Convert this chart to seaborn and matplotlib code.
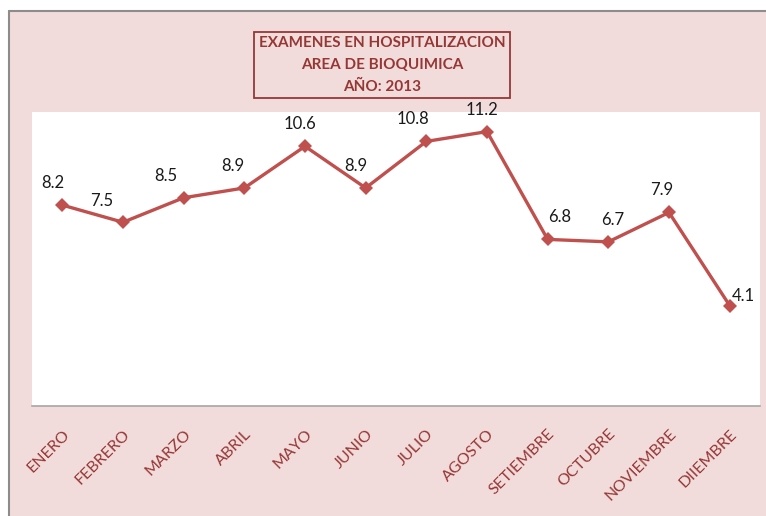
import matplotlib
matplotlib.use("Agg")
import matplotlib.pyplot as plt
import seaborn as sns
import pandas as pd
from matplotlib.lines import Line2D

months = ["ENERO", "FEBRERO", "MARZO", "ABRIL", "MAYO", "JUNIO", "JULIO",
          "AGOSTO", "SETIEMBRE", "OCTUBRE", "NOVIEMBRE", "DIIEMBRE"]
values = [8.2, 7.5, 8.5, 8.9, 10.6, 8.9, 10.8, 11.2, 6.8, 6.7, 7.9, 4.1]
title_lines = ["EXAMENES EN HOSPITALIZACION", "AREA DE BIOQUIMICA", "AÑO: 2013"]

# label offsets (pixels) mimicking Excel's placement
label_dx = [-10, -21, -18, -12, -5, -10, -13, -5, 12, 4, -7, 14]
label_dy = [22, 21, 22, 22, 22, 22, 22, 22, 22, 22, 22, 10]

sns.set_theme(style="white")
plt.rcParams['font.family'] = ['Lato', 'DejaVu Sans']

W, H = 766, 516
fig = plt.figure(figsize=(W / 100, H / 100), dpi=100)
bg = "#F2DCDB"
fig.patch.set_facecolor(bg)

ax = fig.add_axes([32 / W, (H - 406) / H, 728 / W, 294 / H])
ax.set_facecolor("white")

df = pd.DataFrame({"mes": months, "valor": values})
line_col = "#C0504D"
sns.lineplot(data=df, x="mes", y="valor", sort=False, ax=ax, color=line_col,
             linewidth=2.4, marker="D", markersize=7, markeredgewidth=0)

ax.set_xlim(-0.5, len(months) - 0.5)
ax.set_ylim(0, 12)
ax.set_yticks([])
ax.set_xlabel("")
ax.set_ylabel("")
for s in ["top", "left", "right"]:
    ax.spines[s].set_visible(False)
ax.spines["bottom"].set_color("#A6A6A6")
ax.spines["bottom"].set_linewidth(1.2)
ax.tick_params(axis="x", length=0, pad=15)
ax.set_xticks(range(len(months)))
ax.set_xticklabels(months, rotation=45, ha="right", va="top",
                   rotation_mode="anchor", color="#953735", fontsize=11.5)

for i, v in enumerate(values):
    ax.annotate(f"{v}", (i, v), xytext=(label_dx[i] * 0.72, label_dy[i] * 0.72),
                textcoords="offset points", ha="center", va="center",
                fontsize=12, color="#1a1a1a")

# title box
fig.text(382 / W, 1 - 65 / H, "\n".join(title_lines), ha="center", va="center",
         fontsize=11, fontweight="bold", color="#953735", linespacing=1.7,
         bbox=dict(boxstyle="square,pad=0.3", facecolor=bg,
                   edgecolor="#953735", linewidth=1.3))

# outer chart border
gray = "#8C8C8C"
fig.add_artist(Line2D([9 / W, 9 / W], [0, 1 - 11 / H], transform=fig.transFigure,
                      color=gray, linewidth=1.5))
fig.add_artist(Line2D([9 / W, 1], [1 - 11 / H, 1 - 11 / H], transform=fig.transFigure,
                      color=gray, linewidth=1.5))
fig.patches.append(plt.Rectangle((0, 0), 9 / W, 1, transform=fig.transFigure,
                                 facecolor="white", edgecolor="none", zorder=-1))
fig.patches.append(plt.Rectangle((0, 1 - 11 / H), 1, 11 / H, transform=fig.transFigure,
                                 facecolor="white", edgecolor="none", zorder=-1))

fig.savefig("out.png", dpi=100, facecolor=bg)
